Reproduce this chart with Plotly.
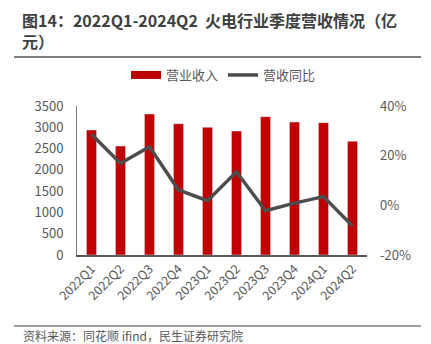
import plotly.graph_objects as go

categories = ["2022Q1", "2022Q2", "2022Q3", "2022Q4", "2023Q1", "2023Q2",
              "2023Q3", "2023Q4", "2024Q1", "2024Q2"]
revenue = [2936, 2560, 3312, 3084, 3000, 2913, 3249, 3124, 3108, 2671]
yoy = [28.6, 16.9, 23.6, 6.2, 1.9, 13.5, -2.2, 0.9, 3.5, -8.3]
left_ticks = [0, 500, 1000, 1500, 2000, 2500, 3000, 3500]
right_ticks = [-20, 0, 20, 40]

RED = "#C00000"
GRAY_LINE = "#4D4D4D"
TXT = "#595959"
FONT = "Noto Sans CJK SC"

W, H = 431, 344
L, R, T, B = 77, 64, 106, 89
PW, PH = W - L - R, H - T - B

def px(x):
    return (x - L) / PW

def py(y):
    return (H - B - y) / PH

fig = go.Figure()
fig.add_trace(go.Bar(x=categories, y=revenue, marker_color=RED, width=0.35,
                     showlegend=False, name="营业收入"))
fig.add_trace(go.Scatter(x=categories, y=yoy, yaxis="y2", mode="lines",
                         line=dict(color=GRAY_LINE, width=3.5),
                         showlegend=False, name="营收同比"))
# legend entries
fig.add_trace(go.Scatter(x=[None], y=[None], mode="lines",
                         line=dict(color=RED, width=8), name="营业收入"))
fig.add_trace(go.Scatter(x=[None], y=[None], mode="lines", yaxis="y2",
                         line=dict(color=GRAY_LINE, width=3.5), name="营收同比"))

fig.update_layout(
    width=W, height=H,
    margin=dict(l=L, r=R, t=T, b=B),
    paper_bgcolor="white", plot_bgcolor="white",
    font=dict(family=FONT, color=TXT, size=13),
    bargap=0.65,
    xaxis=dict(showgrid=False, showline=True, linecolor="#595959", linewidth=1.5,
               tickangle=-45, tickfont=dict(size=12.5), ticks="",
               range=[-0.5, 9.5]),
    yaxis=dict(range=[0, 3500], tickvals=left_ticks, showgrid=False,
               showline=True, linecolor="#7F7F7F", linewidth=1, ticks="",
               ticklabelstandoff=10, zeroline=False),
    yaxis2=dict(range=[-20, 40], tickvals=right_ticks,
                ticktext=[f"{v}%" for v in right_ticks], overlaying="y",
                side="right", showgrid=False, showline=False, ticks="",
                ticklabelstandoff=12, zeroline=False),
    legend=dict(orientation="h", x=px(126), xanchor="left", y=py(75),
                yanchor="middle", font=dict(size=13, color=TXT),
                itemwidth=30, bgcolor="rgba(0,0,0,0)"),
    shapes=[
        dict(type="line", xref="paper", yref="paper", x0=px(14), x1=px(421),
             y0=py(57), y1=py(57), line=dict(color="#7F7F7F", width=2)),
        dict(type="line", xref="paper", yref="paper", x0=px(14), x1=px(421),
             y0=py(326), y1=py(326), line=dict(color="#7F7F7F", width=1.5)),
    ],
    annotations=[
        dict(text="<b>图14：2022Q1-2024Q2  火电行业季度营收情况（亿<br>元）</b>",
             xref="paper", yref="paper", x=px(21), y=py(7), xanchor="left",
             yanchor="top", align="left", showarrow=False, borderpad=0,
             font=dict(size=16, color="#404040", family=FONT)),
        dict(text="资料来源：同花顺 ifind，民生证券研究院",
             xref="paper", yref="paper", x=px(21), y=py(335), xanchor="left",
             yanchor="middle", showarrow=False,
             font=dict(size=12, color=TXT, family=FONT)),
    ],
)

fig.write_html("out.html")
